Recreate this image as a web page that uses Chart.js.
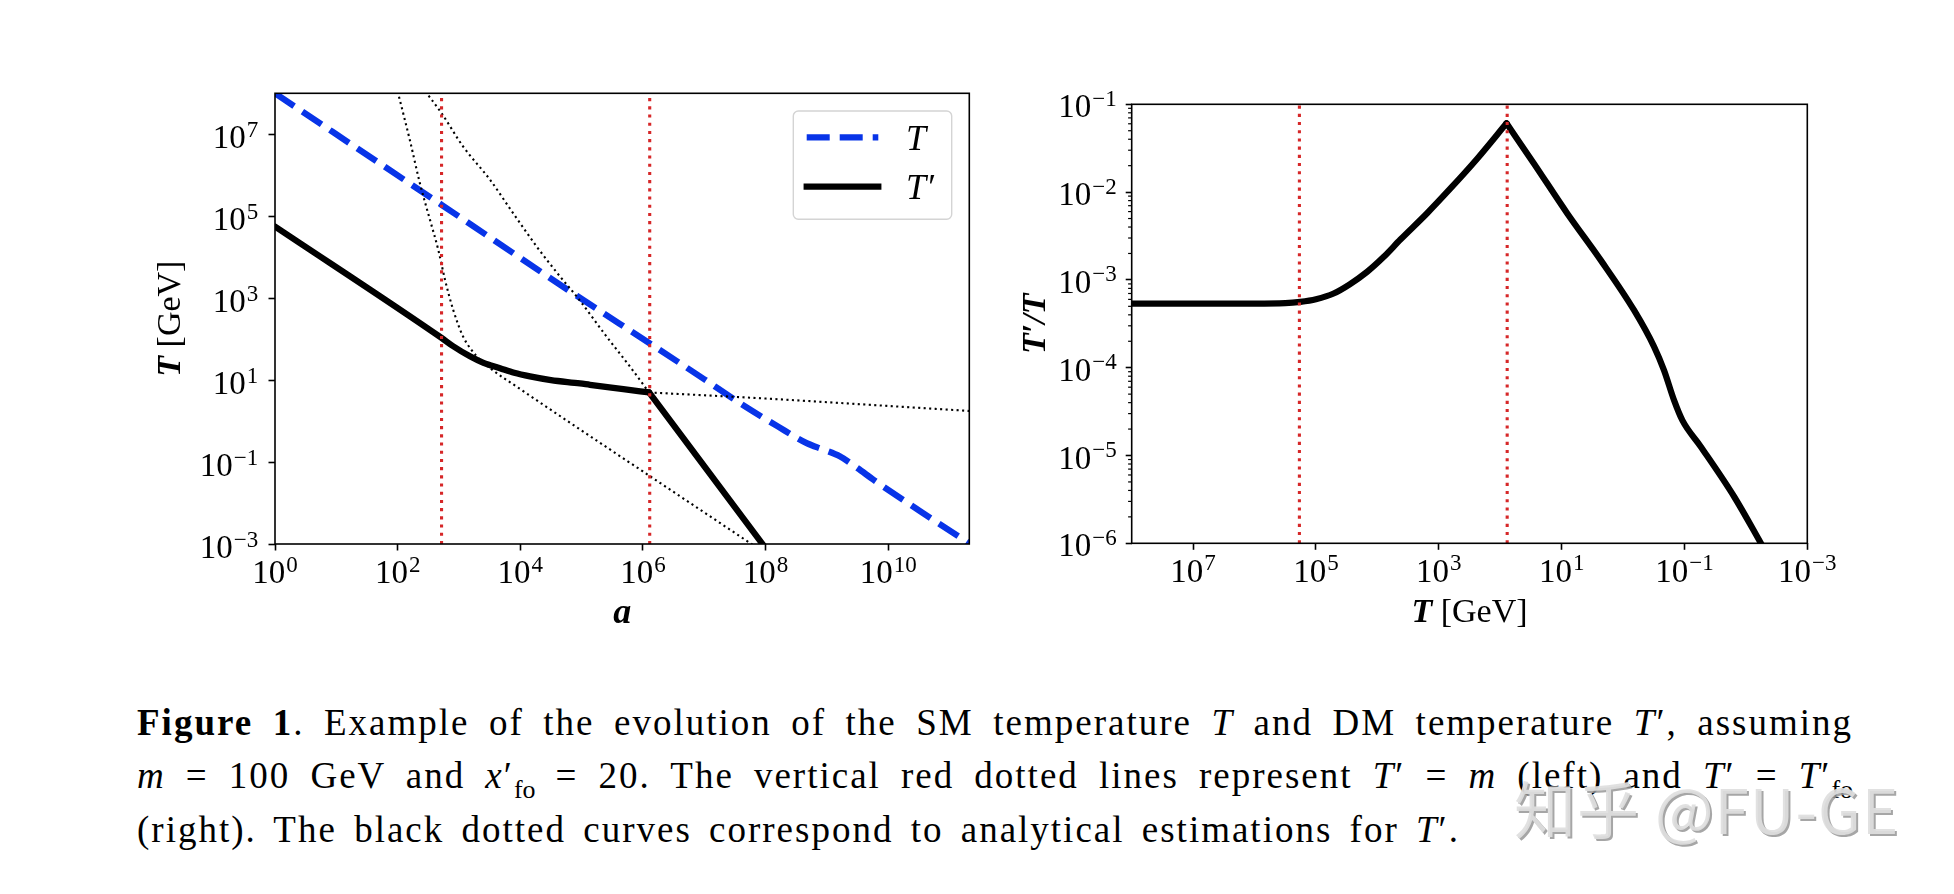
<!DOCTYPE html>
<html>
<head>
<meta charset="utf-8">
<script src="https://cdn.jsdelivr.net/npm/chart.js@4.4.1/dist/chart.umd.min.js"></script>
<style>
html,body{margin:0;padding:0;background:#fff;width:1954px;height:894px;overflow:hidden;}
canvas{position:absolute;top:0;}
#cL{left:0;}
#cR{left:1000px;}
.cap{position:absolute;left:137px;width:1716px;font-family:"Liberation Serif","DejaVu Serif",serif;font-size:37px;line-height:53.3px;color:#000;letter-spacing:2px;word-spacing:6px;white-space:nowrap;}
.just{text-align:justify;text-align-last:justify;white-space:normal;}
.cap i{font-style:italic;}
.cap sub{font-size:70%;vertical-align:baseline;position:relative;top:0.38em;line-height:0;letter-spacing:0;}
#wm{position:absolute;left:1514px;top:776px;font-family:"Noto Sans CJK SC","Noto Sans",sans-serif;font-size:62px;line-height:62px;color:rgba(222,222,222,0.92);text-shadow:2px 2px 0 rgba(150,150,150,0.85);white-space:nowrap;letter-spacing:1px;}
</style>
</head>
<body>
<canvas id="cL" width="1000" height="680"></canvas>
<canvas id="cR" width="954" height="680"></canvas>

<div class="cap just" style="top:696px;"><b>Figure 1</b>. Example of the evolution of the SM temperature <i>T</i> and DM temperature <i>T</i>′, assuming</div>
<div class="cap just" style="top:749.3px;"><i>m</i> = 100 GeV and <i>x</i>′<sub>fo</sub> = 20. The vertical red dotted lines represent <i>T</i>′ = <i>m</i> (left) and <i>T</i>′ = <i>T</i>′<sub>fo</sub></div>
<div class="cap" style="top:802.6px;">(right). The black dotted curves correspond to analytical estimations for <i>T</i>′.</div>
<div id="wm">知乎 @FU-GE</div>

<script>
// ---------------- DATA ----------------
// Left panel: temperatures vs scale factor a
const leftXTicks = [1e0, 1e2, 1e4, 1e6, 1e8, 1e10];
const leftYTicks = [1e-3, 1e-1, 1e1, 1e3, 1e5, 1e7];

// SM temperature T (blue dashed)
const aSM = [1, 5.2e2, 8.3e4, 1.29e6, 1e7, 3.8e7, 1.58e8, 4.68e8, 8.9e8, 1.62e9, 3.16e9, 5.75e9, 3.16e10, 2.14e11];
const T_SM = [1e8, 1.9e5, 1.15e3, 79, 10.5, 2.75, 0.74, 0.29, 0.2, 0.138, 0.071, 0.037, 6.6e-3, 1.02e-3];

// DM temperature T' (black solid), before and after freeze-out
const aDM1 = [1, 5.2e2, 7.94e2, 1.51e3, 2.51e3, 4.67e3, 7.94e3, 1.44e4, 3.16e4, 9.4e4, 1.37e5, 4.79e5, 1.26e6];
const T_DM1 = [5.6e4, 1.07e2, 68, 38, 26.3, 19.5, 15.1, 12.3, 10, 8.3, 7.67, 6.03, 5.0];
const aDM2 = [1.26e6, 1e8];
const T_DM2 = [5.0, 7.9e-4];

// Analytical estimates (black dotted)
const aEst1 = [1e2, 1.58e2, 2.31e2, 3.37e2, 4.6e2, 5.92e2, 8.07e2, 1.17e3, 1.95e3, 3.16e3, 1e4, 1e5, 1e6, 1e7, 7.94e7];
const T_Est1 = [1.12e8, 7.24e6, 6.31e5, 8.13e4, 1.51e4, 2.82e3, 5.13e2, 1.15e2, 3.8e1, 2.0e1, 6.03, 0.589, 0.0589, 5.89e-3, 7.41e-4];
const aEst2 = [2.82e2, 5.22e2, 1.17e3, 3.21e3, 7.69e3, 1.85e4, 4.44e4, 8.3e4, 2.56e5, 6.14e5, 1.26e6];
const T_Est2 = [1.12e8, 3.24e7, 5.01e6, 7.76e5, 1.17e5, 1.82e4, 3.39e3, 1.1e3, 1.15e2, 2.14e1, 5.0];
const aEst3 = [1.26e6, 1e8, 1e10, 2.5e11];
const T_Est3 = [5.0, 3.55, 2.34, 1.74];

// Vertical red dotted markers (T' = m and T' = T'_fo)
const aMarkers = [5.2e2, 1.29e6];

// Right panel: T'/T vs T
const rightXTicks = [1e7, 1e5, 1e3, 1e1, 1e-1, 1e-3];
const rightYTicks = [1e-6, 1e-5, 1e-4, 1e-3, 1e-2, 1e-1];
const T_rise = [1e8, 1e6, 3.16e5, 1.8e5, 1e5, 5.16e4, 2.82e4, 1.48e4, 7.94e3, 4.22e3, 1.55e3, 6.46e2, 2.37e2, 7.89e1];
const R_rise = [5.37e-4, 5.37e-4, 5.43e-4, 5.62e-4, 6.03e-4, 7.0e-4, 8.91e-4, 1.23e-3, 1.82e-3, 2.88e-3, 5.75e-3, 1.1e-2, 2.4e-2, 6.07e-2];
const T_fall = [7.89e1, 2.83e1, 8.09, 2.31, 0.662, 0.313, 0.215, 0.148, 0.108, 5.42e-2, 1.55e-2, 5.69e-3, 4.47e-3];
const R_fall = [6.07e-2, 2.12e-2, 5.71e-3, 1.68e-3, 4.52e-4, 1.74e-4, 9.33e-5, 4.27e-5, 2.51e-5, 1.26e-5, 3.39e-6, 1.0e-6, 7.41e-7];
const TMarkers = [1.86e5, 77];

// ---------------- STYLE ----------------
const SERIF = '"Liberation Serif","DejaVu Serif",serif';
const BLUE = 'rgb(8,52,232)';
const RED = '#d62728';
const pts = (xs, ys) => xs.map((x, i) => ({x: x, y: ys[i]}));
const base = {pointRadius: 0, pointHoverRadius: 0, fill: false, clip: 0, borderJoinStyle: 'round'};

function drawPow(ctx, x, yBase, v, align) {
  const e = Math.round(Math.log10(v));
  const bs = 33, es = 23;
  const expStr = e < 0 ? '\u2212' + (-e) : String(e);
  ctx.font = bs + 'px ' + SERIF;
  const wb = ctx.measureText('10').width;
  ctx.font = es + 'px ' + SERIF;
  const we = ctx.measureText(expStr).width;
  const gap = 1;
  const tw = wb + gap + we;
  const x0 = align === 'right' ? x - tw : x - tw / 2;
  ctx.textAlign = 'left';
  ctx.textBaseline = 'alphabetic';
  ctx.fillStyle = '#000';
  ctx.font = bs + 'px ' + SERIF;
  ctx.fillText('10', x0, yBase);
  ctx.font = es + 'px ' + SERIF;
  ctx.fillText(expStr, x0 + wb + gap, yBase - 11.5);
}

function drawRich(ctx, parts, cx, cy, rotate) {
  ctx.save();
  ctx.translate(cx, cy);
  if (rotate) ctx.rotate(-Math.PI / 2);
  let total = 0;
  parts.forEach(p => { ctx.font = p.f; p.w = ctx.measureText(p.t).width; total += p.w; });
  let x = -total / 2;
  ctx.textAlign = 'left';
  ctx.textBaseline = 'alphabetic';
  ctx.fillStyle = '#000';
  parts.forEach(p => { ctx.font = p.f; ctx.fillText(p.t, x, 0); x += p.w; });
  ctx.restore();
}

function axisScale(ticksArr, min, max, extra) {
  return Object.assign({
    type: 'logarithmic', min: min, max: max,
    afterBuildTicks: s => { s.ticks = ticksArr.map(v => ({value: v})); },
    ticks: {display: false},
    grid: {drawOnChartArea: false, drawTicks: true, tickLength: 6.5, tickWidth: 1.6, tickColor: '#000', color: '#000'},
    border: {display: false}
  }, extra);
}

const decorL = {
  id: 'decorL',
  afterDraw(chart) {
    const ctx = chart.ctx, ca = chart.chartArea;
    const xs = chart.scales.x, ys = chart.scales.y;
    ctx.save();
    xs.ticks.forEach(t => drawPow(ctx, xs.getPixelForValue(t.value), ca.bottom + 39.3, t.value, 'center'));
    ys.ticks.forEach(t => drawPow(ctx, ca.left - 16.7, ys.getPixelForValue(t.value) + 14, t.value, 'right'));
    // spines
    ctx.lineWidth = 1.6; ctx.strokeStyle = '#000'; ctx.setLineDash([]);
    ctx.strokeRect(ca.left, ca.top, ca.right - ca.left, ca.bottom - ca.top);
    // axis titles
    drawRich(ctx, [{t: 'a', f: 'bold italic 36px ' + SERIF}], (ca.left + ca.right) / 2, ca.bottom + 79.3, false);
    drawRich(ctx, [{t: 'T', f: 'bold italic 34px ' + SERIF}, {t: ' [GeV]', f: '34px ' + SERIF}], ca.left - 95, (ca.top + ca.bottom) / 2, true);
    // legend
    const x0 = ca.right - 176, y0 = ca.top + 17.7, w = 158.4, h = 108.3, r = 5;
    ctx.beginPath();
    ctx.moveTo(x0 + r, y0); ctx.lineTo(x0 + w - r, y0); ctx.arcTo(x0 + w, y0, x0 + w, y0 + r, r);
    ctx.lineTo(x0 + w, y0 + h - r); ctx.arcTo(x0 + w, y0 + h, x0 + w - r, y0 + h, r);
    ctx.lineTo(x0 + r, y0 + h); ctx.arcTo(x0, y0 + h, x0, y0 + h - r, r);
    ctx.lineTo(x0, y0 + r); ctx.arcTo(x0, y0, x0 + r, y0, r); ctx.closePath();
    ctx.fillStyle = 'rgba(255,255,255,0.8)'; ctx.fill();
    ctx.strokeStyle = '#d4d4d4'; ctx.lineWidth = 1.4; ctx.stroke();
    const items = [
      {ds: chart.data.datasets.find(d => d.label === 'T'), y: y0 + 26.3, text: 'T', cap: 'butt'},
      {ds: chart.data.datasets.find(d => d.label === 'T\u2032'), y: y0 + 75.7, text: 'T\u2032', cap: 'square'}
    ];
    items.forEach(it => {
      ctx.beginPath();
      ctx.strokeStyle = it.ds.borderColor; ctx.lineWidth = it.ds.borderWidth;
      ctx.setLineDash(it.ds.borderDash || []); ctx.lineCap = it.cap;
      ctx.moveTo(x0 + 13.4, it.y); ctx.lineTo(x0 + 85, it.y); ctx.stroke();
      ctx.setLineDash([]);
      ctx.fillStyle = '#000'; ctx.font = 'italic 36px ' + SERIF; ctx.textAlign = 'left'; ctx.textBaseline = 'alphabetic';
      ctx.fillText(it.text, x0 + 112.7, it.y + 12.5);
    });
    ctx.restore();
  }
};

const decorR = {
  id: 'decorR',
  afterDraw(chart) {
    const ctx = chart.ctx, ca = chart.chartArea;
    const xs = chart.scales.x, ys = chart.scales.y;
    ctx.save();
    xs.ticks.forEach(t => drawPow(ctx, xs.getPixelForValue(t.value), ca.bottom + 38.4, t.value, 'center'));
    ys.ticks.forEach(t => drawPow(ctx, ca.left - 15, ys.getPixelForValue(t.value) + 13, t.value, 'right'));
    // minor ticks on the log y axis
    ctx.strokeStyle = '#000'; ctx.lineWidth = 1.2;
    for (let i = 0; i < rightYTicks.length - 1; i++) {
      for (let k = 2; k <= 9; k++) {
        const py = ys.getPixelForValue(k * rightYTicks[i]);
        ctx.beginPath(); ctx.moveTo(ca.left - 3.6, py); ctx.lineTo(ca.left, py); ctx.stroke();
      }
    }
    ctx.lineWidth = 1.6;
    ctx.strokeRect(ca.left, ca.top, ca.right - ca.left, ca.bottom - ca.top);
    drawRich(ctx, [{t: 'T', f: 'bold italic 34px ' + SERIF}, {t: ' [GeV]', f: '34px ' + SERIF}], (ca.left + ca.right) / 2, ca.bottom + 78.4, false);
    drawRich(ctx, [{t: 'T\u2032/T', f: 'bold italic 34px ' + SERIF}], ca.left - 86.7, (ca.top + ca.bottom) / 2, true);
    ctx.restore();
  }
};

const commonOpts = {
  responsive: false, animation: false, events: [], devicePixelRatio: 1,
  plugins: {legend: {display: false}, tooltip: {enabled: false}}
};

new Chart(document.getElementById('cL'), {
  type: 'line',
  data: {datasets: [
    Object.assign({}, base, {label: 'T\u2032 = m', data: pts([aMarkers[0], aMarkers[0]], [1e-3, 1e8]), borderColor: RED, borderWidth: 3.1, borderDash: [3.1, 5.1], order: 0}),
    Object.assign({}, base, {label: 'T\u2032 = T\u2032fo', data: pts([aMarkers[1], aMarkers[1]], [1e-3, 1e8]), borderColor: RED, borderWidth: 3.1, borderDash: [3.1, 5.1], order: 0}),
    Object.assign({}, base, {label: 'T\u2032', data: pts(aDM1, T_DM1), borderColor: '#000', borderWidth: 6.25, borderCapStyle: 'round', cubicInterpolationMode: 'monotone', order: 1}),
    Object.assign({}, base, {label: 'T\u2032 (after fo)', data: pts(aDM2, T_DM2), borderColor: '#000', borderWidth: 6.25, borderCapStyle: 'round', order: 1}),
    Object.assign({}, base, {label: 'est1', data: pts(aEst1, T_Est1), borderColor: '#000', borderWidth: 2.1, borderDash: [2.1, 3.4], cubicInterpolationMode: 'monotone', order: 2}),
    Object.assign({}, base, {label: 'est2', data: pts(aEst2, T_Est2), borderColor: '#000', borderWidth: 2.1, borderDash: [2.1, 3.4], cubicInterpolationMode: 'monotone', order: 2}),
    Object.assign({}, base, {label: 'est3', data: pts(aEst3, T_Est3), borderColor: '#000', borderWidth: 2.1, borderDash: [2.1, 3.4], cubicInterpolationMode: 'monotone', order: 2}),
    Object.assign({}, base, {label: 'T', data: pts(aSM, T_SM), borderColor: BLUE, borderWidth: 6.25, borderDash: [23, 10], borderCapStyle: 'butt', cubicInterpolationMode: 'monotone', order: 3})
  ]},
  options: Object.assign({}, commonOpts, {
    layout: {padding: {left: 200, right: 30.7, top: 93.3, bottom: 86}},
    scales: {
      x: axisScale(leftXTicks, 1, 2.1e11, {position: 'bottom', afterFit: s => { s.height = 50; }}),
      y: axisScale(leftYTicks, 1e-3, 1e8, {position: 'left', afterFit: s => { s.width = 75; }})
    }
  }),
  plugins: [decorL]
});

new Chart(document.getElementById('cR'), {
  type: 'line',
  data: {datasets: [
    Object.assign({}, base, {label: 'T\u2032 = m', data: pts([TMarkers[0], TMarkers[0]], [1e-6, 1e-1]), borderColor: RED, borderWidth: 3.1, borderDash: [3.1, 5.1], order: 0}),
    Object.assign({}, base, {label: 'T\u2032 = T\u2032fo', data: pts([TMarkers[1], TMarkers[1]], [1e-6, 1e-1]), borderColor: RED, borderWidth: 3.1, borderDash: [3.1, 5.1], order: 0}),
    Object.assign({}, base, {label: 'T\u2032/T rise', data: pts(T_rise, R_rise), borderColor: '#000', borderWidth: 6.25, borderCapStyle: 'round', cubicInterpolationMode: 'monotone', order: 1}),
    Object.assign({}, base, {label: 'T\u2032/T fall', data: pts(T_fall, R_fall), borderColor: '#000', borderWidth: 6.25, borderCapStyle: 'round', cubicInterpolationMode: 'monotone', order: 1})
  ]},
  options: Object.assign({}, commonOpts, {
    layout: {padding: {left: 61.7, right: 146.7, top: 104.3, bottom: 86.7}},
    scales: {
      x: axisScale(rightXTicks, 1e-3, 1e8, {position: 'bottom', reverse: true, afterFit: s => { s.height = 50; }}),
      y: axisScale(rightYTicks, 1e-6, 1e-1, {position: 'left', afterFit: s => { s.width = 70; }, grid: {drawOnChartArea: false, drawTicks: true, tickLength: 6, tickWidth: 1.6, tickColor: '#000', color: '#000'}})
    }
  }),
  plugins: [decorR]
});
</script>
</body>
</html>
